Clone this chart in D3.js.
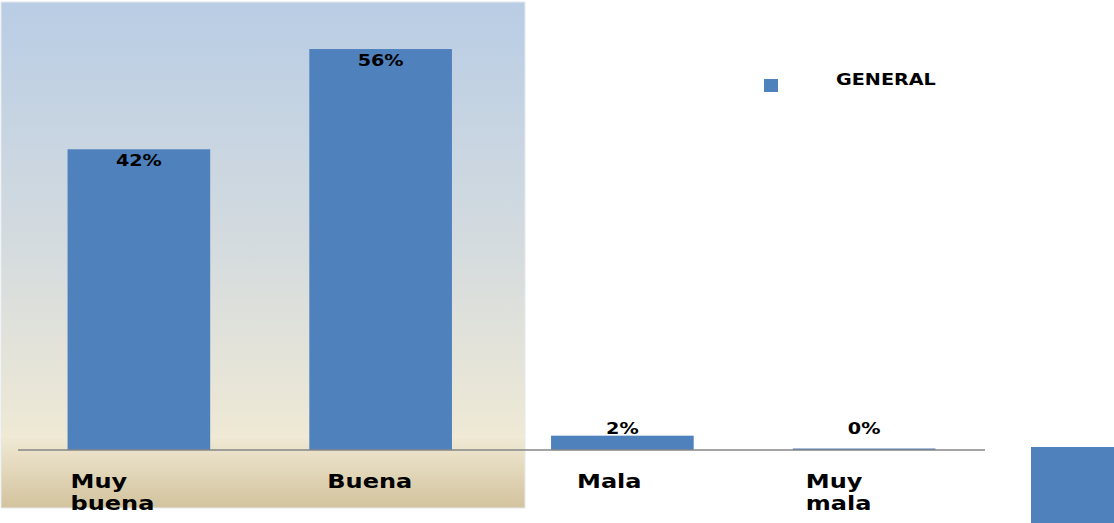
<!doctype html>
<html>
<head>
<meta charset="utf-8">
<script src="https://d3js.org/d3.v7.min.js"></script>
<style>
  body { margin: 0; background: #fff; }
  svg { display: block; }
  text { font-family: 'DejaVu Sans', sans-serif; font-weight: bold; fill: #000; }
</style>
</head>
<body>
<script>
// data
var categories = ["Muy buena", "Buena", "Mala", "Muy mala"];
var values = [0.42, 0.56, 0.02, 0.00];
var seriesName = "GENERAL";
// label lines and small nudges (the source wraps/left-shifts them)
var catLines = [["Muy", "buena"], ["Buena"], ["Mala"], ["Muy", "mala"]];
var catNudge = [3, 18, 26, 13];

var width = 1114, height = 523;
var blue = "#4F81BD";
var stretch = 1.2; // glyphs in the source are drawn wide

var svg = d3.select("body").append("svg")
  .attr("width", width).attr("height", height);

var defs = svg.append("defs");
var grad = defs.append("linearGradient")
  .attr("id", "panel").attr("x1", 0).attr("y1", 0).attr("x2", 0).attr("y2", 1);
grad.append("stop").attr("offset", "0%").attr("stop-color", "#B9CDE5");
grad.append("stop").attr("offset", "45%").attr("stop-color", "#D2DADF");
grad.append("stop").attr("offset", "86%").attr("stop-color", "#EFE9D5");
grad.append("stop").attr("offset", "89%").attr("stop-color", "#EAE1C8");
grad.append("stop").attr("offset", "100%").attr("stop-color", "#D3C39E");

svg.append("rect")
  .attr("x", 1).attr("y", 2).attr("width", 524).attr("height", 506)
  .attr("fill", "url(#panel)")
  .attr("stroke", "#e4e8ee").attr("stroke-width", 1);

var x = d3.scaleBand().domain(categories).range([18, 985]).paddingInner(0.41).paddingOuter(0.205);
var y = d3.scaleLinear().domain([0, 0.6]).range([450, 20.4]);

svg.selectAll(".bar")
  .data(values)
  .enter().append("rect")
  .attr("class", "bar")
  .attr("x", function(d, i) { return x(categories[i]); })
  .attr("y", function(d) { return Math.min(y(d), y(0) - 1.5); })
  .attr("width", x.bandwidth())
  .attr("height", function(d) { return Math.max(y(0) - y(d), 1.5); })
  .attr("fill", blue);

svg.append("line")
  .attr("x1", 18).attr("x2", 985)
  .attr("y1", y(0)).attr("y2", y(0))
  .attr("stroke", "#868686").attr("stroke-width", 1.3);

// value labels
svg.selectAll(".val")
  .data(values)
  .enter().append("text")
  .attr("class", "val")
  .attr("text-anchor", "middle")
  .attr("font-size", 16)
  .attr("transform", function(d, i) {
    var cx = x(categories[i]) + x.bandwidth() / 2;
    var h = y(0) - y(d);
    var ty = h > 30 ? y(d) + 17 : y(0) - 16;
    return "translate(" + cx + "," + ty + ") scale(" + stretch + ",1)";
  })
  .text(function(d) { return Math.round(d * 100) + "%"; });

// category labels
var cat = svg.selectAll(".cat")
  .data(categories)
  .enter().append("text")
  .attr("class", "cat")
  .attr("font-size", 20)
  .attr("transform", function(d, i) {
    return "translate(" + (x(d) + catNudge[i]) + ",488) scale(" + stretch + ",1)";
  });
cat.selectAll("tspan")
  .data(function(d, i) { return catLines[i]; })
  .enter().append("tspan")
  .attr("x", 0)
  .attr("dy", function(d, j) { return j === 0 ? 0 : 22; })
  .text(function(d) { return d; });

// legend
svg.append("rect")
  .attr("x", 764).attr("y", 79).attr("width", 14).attr("height", 13)
  .attr("fill", blue);
svg.append("text")
  .attr("font-size", 16)
  .attr("transform", "translate(836,85) scale(" + stretch + ",1)")
  .text(seriesName);

// cut-off block at the lower right
svg.append("rect")
  .attr("x", 1031).attr("y", 447).attr("width", 83).attr("height", 76)
  .attr("fill", blue);
</script>
</body>
</html>
